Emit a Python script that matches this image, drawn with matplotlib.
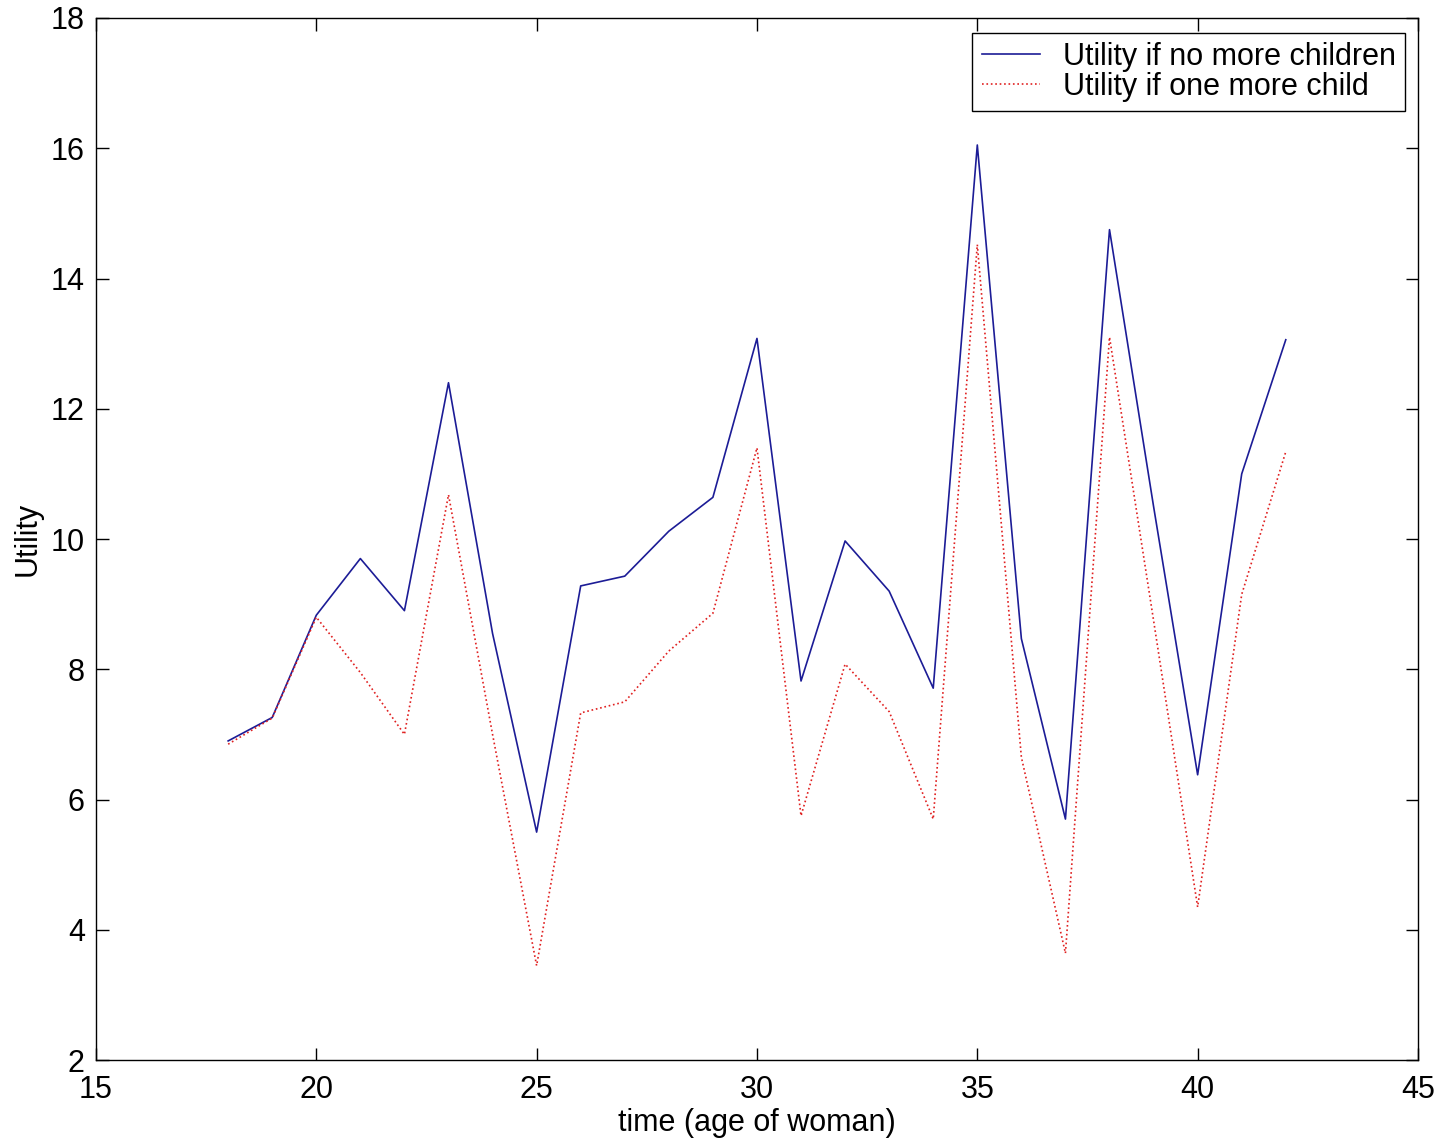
import matplotlib.pyplot as plt

plt.rcParams['font.family'] = ['Liberation Sans', 'DejaVu Sans']

ages = list(range(18, 43))
no_more_children = [6.9, 7.26, 8.83, 9.7, 8.9, 12.4, 8.55, 5.5, 9.28, 9.43, 10.12, 10.64,
                    13.08, 7.82, 9.97, 9.2, 7.71, 16.05, 8.47, 5.7, 14.75, 10.5, 6.38, 11.0, 13.06]
one_more_child = [6.85, 7.25, 8.8, 7.95, 7.0, 10.68, 7.0, 3.45, 7.33, 7.5, 8.28, 8.86,
                  11.4, 5.75, 8.08, 7.35, 5.7, 14.52, 6.65, 3.64, 13.1, 8.75, 4.35, 9.15, 11.34]

fig = plt.figure(figsize=(14.45, 11.46), dpi=100)
ax = fig.add_axes([0.0664, 0.0750, 0.9149, 0.9093])

ax.plot(ages, no_more_children, '-', color='#1c1c96', linewidth=1.2,
        label='Utility if no more children')
ax.plot(ages, one_more_child, ':', color='#e02020', linewidth=1.2,
        label='Utility if one more child')

ax.set_xlim(15, 45)
ax.set_ylim(2, 18)
ax.set_xticks(range(15, 46, 5))
ax.set_yticks(range(2, 19, 2))
ax.tick_params(direction='in', length=9, width=1, labelsize=22, top=True, right=True)
ax.tick_params(axis='x', pad=11)
ax.tick_params(axis='y', pad=8)
for s in ax.spines.values():
    s.set_linewidth(1)

ax.set_xlabel('time (age of woman)', fontsize=22, labelpad=2)
ax.set_ylabel('Utility', fontsize=22, labelpad=6)

# legend box sits just inside the top right corner, like the original
leg = ax.legend(loc='upper right', bbox_to_anchor=(0.990, 0.9856), fontsize=22,
                frameon=True, fancybox=False, edgecolor='black', framealpha=1,
                borderaxespad=0, handlelength=1.9, labelspacing=0.0,
                borderpad=0.3, handletextpad=0.75)
leg.get_frame().set_linewidth(1)
leg._legend_box.sep = 0
for t in leg.get_texts():
    t.set_x(0)

fig.savefig('out.png', dpi=100)
